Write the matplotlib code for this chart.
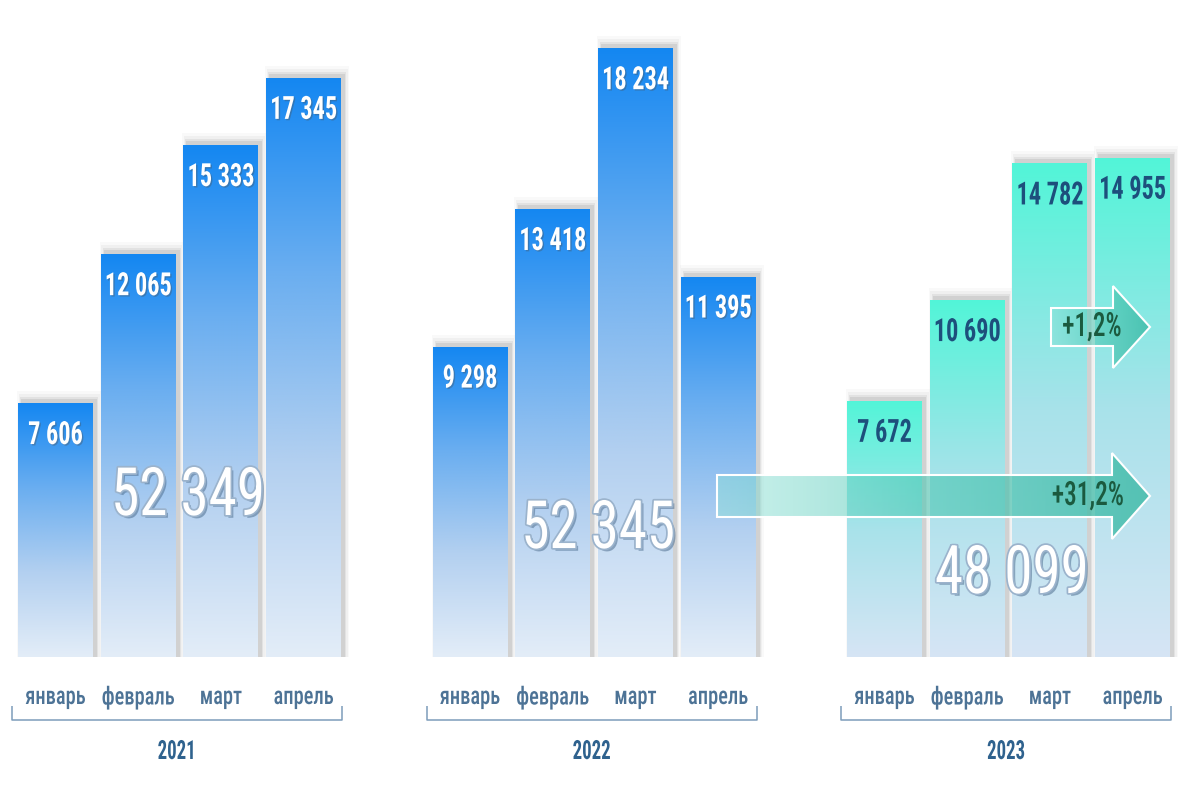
import numpy as np
import matplotlib
matplotlib.use("Agg")
import matplotlib.pyplot as plt
from matplotlib.colors import LinearSegmentedColormap
from matplotlib.patches import Polygon
from matplotlib.transforms import Affine2D
import matplotlib.patheffects as pe
from matplotlib import font_manager as fm

# ---------------- data ----------------
years = ["2021", "2022", "2023"]
months = ["январь", "февраль", "март", "апрель"]
values_2021 = [7606, 12065, 15333, 17345]
values_2022 = [9298, 13418, 18234, 11395]
values_2023 = [7672, 10690, 14782, 14955]
totals = ["52 349", "52 345", "48 099"]
growth_labels = ["+1,2%", "+31,2%"]

series = [values_2021, values_2022, values_2023]


def fmt(v):
    return f"{v:,}".replace(",", " ")


# ---------------- condensed text helper ----------------
names = {f.name for f in fm.fontManager.ttflist}
if "Roboto Condensed" in names:
    FONT = ["Roboto Condensed", "DejaVu Sans"]
    BASE = 0.95
else:
    FONT = ["Roboto", "DejaVu Sans"]
    BASE = 0.78


class HScale(pe.AbstractPathEffect):
    """Compress glyphs horizontally about their own centre, then run inner effects."""

    def __init__(self, sx, inner):
        super().__init__()
        self.sx = sx
        self.inner = inner

    def draw_path(self, renderer, gc, tpath, affine, rgbFace=None):
        ext = tpath.get_extents(affine)
        cx = 0.5 * (ext.x0 + ext.x1)
        new = affine + Affine2D().translate(-cx, 0).scale(self.sx, 1).translate(cx, 0)
        for eff in self.inner:
            eff.draw_path(renderer, gc, tpath, new, rgbFace)


def ctext(x, y, s, sx=0.8, effects=None, **kw):
    effects = effects or [pe.Normal()]
    return ax.text(x, y, s, ha="center", va="center", family=FONT,
                   path_effects=[HScale(sx * BASE, effects)], **kw)


# ---------------- layout ----------------
fig = plt.figure(figsize=(12, 8), dpi=100)
ax = fig.add_axes([0, 0, 1, 1])
ax.set_xlim(0, 1200)
PX = 29.95  # value units per pixel
ax.set_ylim(-143 * PX, 657 * PX)
ax.axis("off")

group_start = [55.5, 470, 884.5]
step = 82.7
bar_w = 75

cmap_blue = LinearSegmentedColormap.from_list("b", ["#e3edf8", "#b3d0f0", "#6aaef0", "#1487f2"])
cmap_teal = LinearSegmentedColormap.from_list("t", ["#d6e5f5", "#a8e2ea", "#52f5d8"])
grad = np.linspace(0, 1, 256).reshape(-1, 1)

for gi, vals in enumerate(series):
    cmap = cmap_teal if gi == 2 else cmap_blue
    xs = [group_start[gi] + i * step for i in range(len(vals))]
    # soft shadow (slightly up and to the right)
    for k, a in [(9, 0.04), (6, 0.06), (3, 0.10), (1, 0.14)]:
        ax.bar([x + 3.5 for x in xs], [v + (3 + k) * PX for v in vals], width=bar_w + k,
               bottom=0, color="#707070", alpha=a, zorder=1, linewidth=0)
    bars = ax.bar(xs, vals, width=bar_w, color="none", linewidth=0, zorder=2)
    for x, v, b in zip(xs, vals, bars):
        im = ax.imshow(grad, cmap=cmap, aspect="auto", origin="lower",
                       extent=[x - bar_w / 2, x + bar_w / 2, 0, v], zorder=2,
                       interpolation="bicubic")
        im.set_clip_path(b)
        if gi < 2:
            ctext(x, v - 32 * PX, fmt(v), sx=0.8, color="white", fontsize=23,
                  fontweight="bold", zorder=5,
                  effects=[pe.SimplePatchShadow(offset=(1, -1), alpha=0.35), pe.Normal()])
        else:
            ctext(x, v - 32 * PX, fmt(v), sx=0.8, color="#1d4f7c", fontsize=23,
                  fontweight="bold", zorder=5)
    # month labels
    for x, m in zip(xs, months):
        ctext(x, -40 * PX, m, sx=0.86, color="#4d7396", fontsize=18, fontweight="medium")
    # bracket
    x0 = xs[0] - bar_w / 2 - 6
    x1 = xs[-1] + bar_w / 2 + 1
    yb = -63 * PX
    ax.plot([x0, x0, x1, x1], [-49 * PX, yb, yb, -49 * PX], color="#7d9dbb", lw=1.1,
            solid_capstyle="butt")
    ctext((x0 + x1) / 2, -95 * PX, years[gi], sx=0.75, color="#2f628e", fontsize=19,
          fontweight="bold")

# totals
total_pos = [(188, 160), (598, 127), (1012, 82)]
for (x, ypx), s in zip(total_pos, totals):
    ctext(x, ypx * PX, s, sx=0.9, color="white", fontsize=48, fontweight="normal", zorder=6,
          effects=[pe.SimplePatchShadow(offset=(2, -2), shadow_rgbFace="#4f6f90", alpha=0.55),
                   pe.Stroke(linewidth=2.5, foreground="#9bb3cc"),
                   pe.Normal()])


# arrows
def arrow(x0, x1, xh, yc, half_body, half_head, label, lx, fs):
    pts = [(x0, yc - half_body), (xh, yc - half_body), (xh, yc - half_head),
           (x1, yc), (xh, yc + half_head), (xh, yc + half_body), (x0, yc + half_body)]
    pts = [(px, py * PX) for px, py in pts]
    poly = Polygon(pts, closed=True, facecolor="none", edgecolor="white", lw=1.5, zorder=7)
    ax.add_patch(poly)
    cm = LinearSegmentedColormap.from_list(
        "a", [(0.55, 0.88, 0.84, 0.45), (0.30, 0.78, 0.70, 0.60), (0.22, 0.72, 0.64, 0.78)])
    im = ax.imshow(np.linspace(0, 1, 256).reshape(1, -1), cmap=cm, aspect="auto",
                   extent=[x0, x1, (yc - half_head) * PX, (yc + half_head) * PX], zorder=6)
    im.set_clip_path(poly)
    ctext(lx, yc * PX, label, sx=0.8, color="#1b5a3f", fontsize=fs, fontweight="medium",
          zorder=8)


arrow(1051, 1150, 1113, 657 - 327, 19, 41, growth_labels[0], 1092, 24)
arrow(717, 1150, 1112, 657 - 496, 21, 43, growth_labels[1], 1088, 24)

fig.savefig("out.png", dpi=100, facecolor="white")
